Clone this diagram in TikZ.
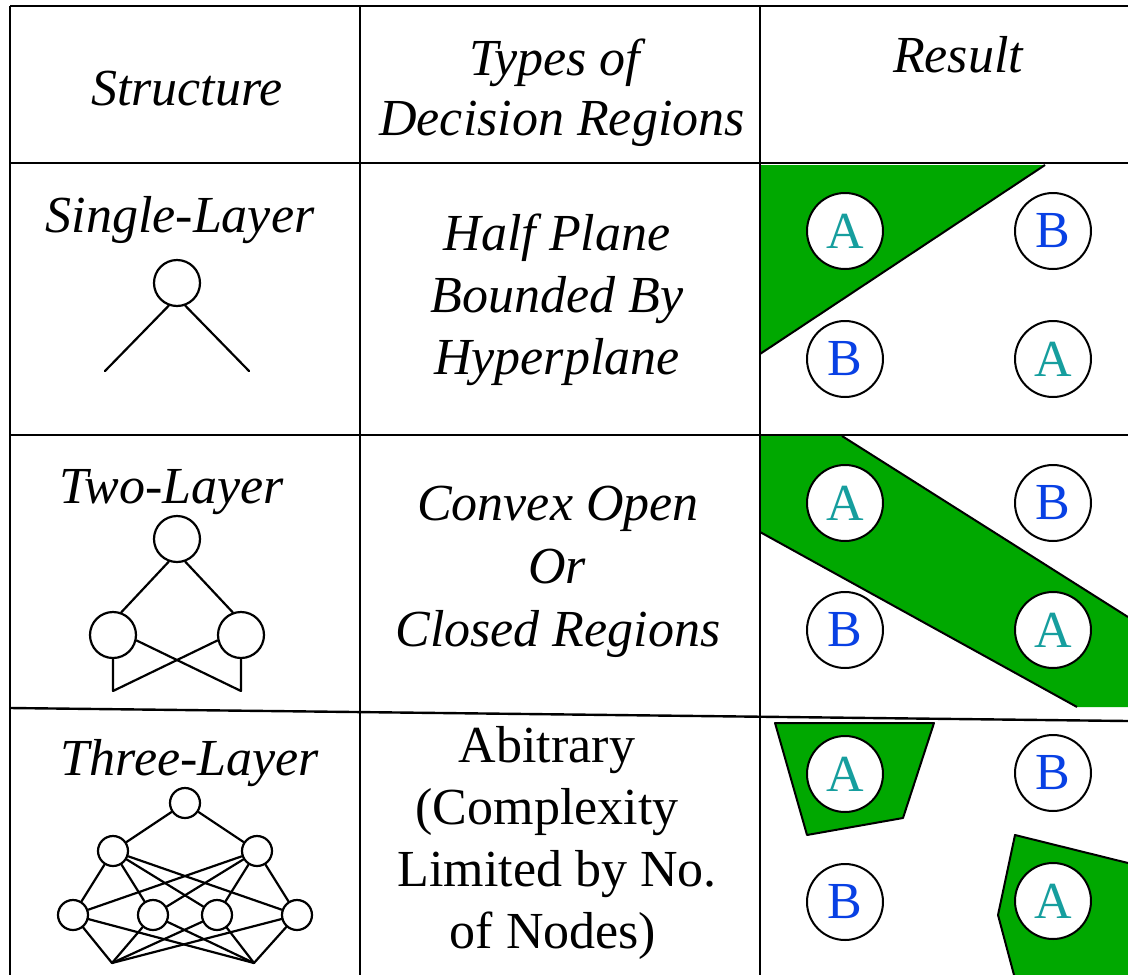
\documentclass[tikz,border=0pt]{standalone}
\usepackage{fontspec}
\setmainfont{Liberation Serif}
\definecolor{regiongreen}{RGB}{0,168,0}
\definecolor{classA}{RGB}{22,158,158}
\definecolor{classB}{RGB}{8,64,228}

\begin{document}
\begin{tikzpicture}[x=1pt,y=-1pt,
  rule/.style={line width=2.4pt},
  cell/.style={anchor=base, inner sep=0pt, font=\fontsize{52}{62}\selectfont\itshape},
  uptext/.style={anchor=base, inner sep=0pt, font=\fontsize{52}{62}\selectfont},
  sample/.style={circle, draw, line width=2pt, fill=white, minimum size=76pt, inner sep=0pt, font=\fontsize{52}{62}\selectfont},
  clsA/.style={sample, text=classA},
  clsB/.style={sample, text=classB},
  unit/.style={circle, draw, line width=2.2pt, inner sep=0pt},
  unitbig/.style={unit, minimum size=46pt},
  unitsmall/.style={unit, minimum size=30pt},
  wire/.style={line width=2.2pt, line cap=round},
  region/.style={fill=regiongreen},
  rgnedge/.style={line width=2pt, line join=round},
]
\useasboundingbox (0,0) rectangle (1128,975);
\clip (0,0) rectangle (1128,975);

% ---- decision regions (drawn beneath the grid) ----
\fill[region] (760,165) -- (1045,165) -- (760,354) -- cycle;
\draw[rgnedge] (1045,165) -- (760,354);

\fill[region] (760,436) -- (842,436) -- (1128,617) -- (1128,707) -- (1077,707) -- (760,532) -- cycle;
\draw[rgnedge] (842,436) -- (1128,617);
\draw[rgnedge] (760,532) -- (1077,707);

\filldraw[region, rgnedge] (775,723) -- (934,723) -- (903,818) -- (807,835) -- cycle;
\fill[region] (1015,835) -- (1128,863) -- (1128,975) -- (1014,975) -- (998,915) -- cycle;
\draw[rgnedge] (1128,863) -- (1015,835) -- (998,915) -- (1014,975);

% ---- table grid ----
\draw[rule] (10,6) -- (1128,6);
\draw[rule] (10,6) -- (10,975);
\draw[rule] (360,6) -- (360,975);
\draw[rule] (760,6) -- (760,975);
\draw[rule] (10,163) -- (1128,163);
\draw[rule] (10,435) -- (1128,435);
\draw[rule] (10,708) -- (1128,721);

% ---- header ----
\node[cell] (hstruct) at (187,105) {Structure};
\node[cell] (htypes1) at (555,75) {Types of};
\node[cell] (htypes2) at (562,135) {Decision Regions};
\node[cell] (hresult) at (958,72) {Result};

% ---- row 1: single layer ----
\node[cell] (n1) at (180,232) {Single-Layer};
\node[cell] (d1a) at (557,250) {Half Plane};
\node[cell] (d1b) at (557,312) {Bounded By};
\node[cell] (d1c) at (557,374) {Hyperplane};

\node[unitbig] (s1) at (177,283) {};
\coordinate (s1l) at (105,371);
\coordinate (s1r) at (249,371);
\draw[wire] (s1.250) -- (s1l);
\draw[wire] (s1.290) -- (s1r);

\node[clsA] (r1a) at (845,231) {A};
\node[clsB] (r1b) at (1053,231) {B};
\node[clsB] (r1c) at (845,359) {B};
\node[clsA] (r1d) at (1053,359) {A};

% ---- row 2: two layer ----
\node[cell] (n2) at (172,503) {Two-Layer};
\node[cell] (d2a) at (558,520) {Convex Open};
\node[cell] (d2b) at (557,583) {Or};
\node[cell] (d2c) at (558,646) {Closed Regions};

\node[unitbig] (t2) at (177,539) {};
\node[unitbig] (h2l) at (113,635) {};
\node[unitbig] (h2r) at (241,635) {};
\coordinate (b2l) at (113,691);
\coordinate (b2r) at (241,691);
\draw[wire] (t2.250) -- (h2l.70);
\draw[wire] (t2.290) -- (h2r.110);
\draw[wire, line join=round] (h2l.south) -- (b2l) -- (h2r.193);
\draw[wire, line join=round] (h2r.south) -- (b2r) -- (h2l.-13);

\node[clsA] (r2a) at (845,503) {A};
\node[clsB] (r2b) at (1053,503) {B};
\node[clsB] (r2c) at (845,630) {B};
\node[clsA] (r2d) at (1053,630) {A};

% ---- row 3: three layer ----
\node[cell] (n3) at (190,775) {Three-Layer};
\node[uptext] (d3a) at (547,762) {Abitrary};
\node[uptext] (d3b) at (547,824) {(Complexity};
\node[uptext] (d3c) at (557,886) {Limited by No.};
\node[uptext] (d3d) at (553,948) {of Nodes)};

\node[unitsmall] (o3) at (185,803) {};
\node[unitsmall] (h3a) at (113,851) {};
\node[unitsmall] (h3b) at (257,851) {};
\node[unitsmall] (i3a) at (73,915) {};
\node[unitsmall] (i3b) at (153,915) {};
\node[unitsmall] (i3c) at (217,915) {};
\node[unitsmall] (i3d) at (297,915) {};
\coordinate (q3a) at (112,963);
\coordinate (q3b) at (254,963);
\draw[wire] (o3) -- (h3a);
\draw[wire] (o3) -- (h3b);
\foreach \h in {h3a,h3b}
  \foreach \i in {i3a,i3b,i3c,i3d}
    \draw[wire] (\h) -- (\i);
\foreach \i in {i3a,i3b,i3c,i3d}
  \foreach \q in {q3a,q3b}
    \draw[wire] (\i) -- (\q);

\node[clsA] (r3a) at (845,774) {A};
\node[clsB] (r3b) at (1053,773) {B};
\node[clsB] (r3c) at (845,902) {B};
\node[clsA] (r3d) at (1053,901) {A};
\end{tikzpicture}
\end{document}
